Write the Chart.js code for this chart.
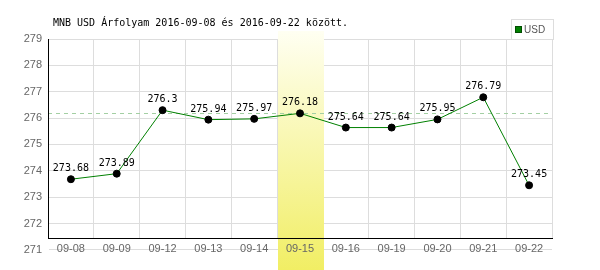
<!DOCTYPE html>
<html>
<head>
<meta charset="utf-8">
<script src="https://cdn.jsdelivr.net/npm/chart.js@4/dist/chart.umd.min.js"></script>
<style>
  html, body { margin: 0; padding: 0; background: #fff; }
  #wrap { width: 600px; height: 270px; position: relative; }
</style>
</head>
<body>
<div id="wrap"><canvas id="chart-usd"></canvas></div>
<script>
(function () {
  'use strict';

  // MNB USD rates, 2016-09-08 .. 2016-09-22
  var days = ['09-08', '09-09', '09-12', '09-13', '09-14', '09-15', '09-16', '09-19', '09-20', '09-21', '09-22'];
  var usdRates = [273.68, 273.89, 276.3, 275.94, 275.97, 276.18, 275.64, 275.64, 275.95, 276.79, 273.45];
  var yTicks = [271, 272, 273, 274, 275, 276, 277, 278, 279];
  var highlightDay = '09-15';
  var titleText = 'MNB USD Árfolyam 2016-09-08 és 2016-09-22 között.';
  var seriesName = 'USD';

  var monoFont = '10px "DejaVu Sans Mono", "Liberation Mono", monospace';
  var tickFont = { family: '"Liberation Sans", Arial, sans-serif', size: 11 };

  var decorations = {
    id: 'decorations',
    beforeDatasetsDraw: function (chart) {
      var ctx = chart.ctx, area = chart.chartArea;
      var x = chart.scales.x, y = chart.scales.y;
      var idx = days.indexOf(highlightDay);
      var step = x.getPixelForValue(1) - x.getPixelForValue(0);
      var cx = x.getPixelForValue(idx);
      var top = area.top - 8, bottom = chart.height;
      var g = ctx.createLinearGradient(0, top, 0, bottom);
      g.addColorStop(0, '#fffff2');
      g.addColorStop(1, '#f1ee64');
      ctx.save();
      ctx.fillStyle = g;
      ctx.fillRect(Math.round(cx - step / 2) + 1, top, Math.round(step), bottom - top);

      // reference line at the highlighted day's rate
      var ry = Math.round(y.getPixelForValue(usdRates[idx])) + 0.5;
      ctx.strokeStyle = '#a3cfa3';
      ctx.lineWidth = 1;
      ctx.setLineDash([4, 4]);
      ctx.beginPath();
      ctx.moveTo(area.left, ry);
      ctx.lineTo(area.right, ry);
      ctx.stroke();
      ctx.restore();
    },
    afterDatasetsDraw: function (chart) {
      var ctx = chart.ctx;
      var meta = chart.getDatasetMeta(0);
      ctx.save();
      ctx.font = monoFont;
      ctx.fillStyle = '#000';
      ctx.textAlign = 'center';
      ctx.textBaseline = 'alphabetic';
      meta.data.forEach(function (pt, i) {
        ctx.fillText(String(usdRates[i]), pt.x, pt.y - 8);
      });
      ctx.restore();
    },
    afterDraw: function (chart) {
      var ctx = chart.ctx, area = chart.chartArea;
      ctx.save();
      // title
      ctx.font = monoFont;
      ctx.fillStyle = '#000';
      ctx.textAlign = 'left';
      ctx.textBaseline = 'middle';
      ctx.fillText(titleText, area.left + 5, 23);

      // legend box
      var lw = 42, lh = 20;
      var lx = area.right + 1 - lw, ly = area.top - lh;
      ctx.strokeStyle = '#dddddd';
      ctx.lineWidth = 1;
      ctx.strokeRect(lx + 0.5, ly + 0.5, lw, lh);
      ctx.fillStyle = '#008000';
      ctx.fillRect(lx + 4, ly + 7, 6, 6);
      ctx.strokeStyle = '#004d00';
      ctx.strokeRect(lx + 4.5, ly + 7.5, 6, 6);
      ctx.fillStyle = '#555';
      ctx.font = '10px "Liberation Sans", Arial, sans-serif';
      ctx.fillText(seriesName, lx + 13, ly + 11);
      ctx.restore();
    }
  };

  new Chart(document.getElementById('chart-usd'), {
    type: 'line',
    data: {
      labels: days,
      datasets: [{
        label: seriesName,
        data: usdRates,
        borderColor: '#008000',
        borderWidth: 1,
        tension: 0,
        fill: false,
        pointRadius: 3.5,
        pointHoverRadius: 3.5,
        pointBackgroundColor: '#000',
        pointBorderColor: '#000',
        pointBorderWidth: 1,
        clip: false
      }]
    },
    options: {
      responsive: true,
      maintainAspectRatio: false,
      animation: false,
      layout: { padding: { top: 39, right: 48, bottom: 0, left: 0 } },
      plugins: {
        legend: { display: false },
        title: { display: false },
        tooltip: { enabled: false }
      },
      scales: {
        x: {
          type: 'category',
          offset: true,
          grid: { offset: true, color: '#dddddd', drawTicks: false },
          border: { color: '#000', z: 1 },
          ticks: { padding: 4, color: '#666', font: tickFont, autoSkip: false, maxRotation: 0, z: 1 },
          afterFit: function (s) { s.height = 32; }
        },
        y: {
          min: 271.45,
          max: 279,
          afterBuildTicks: function (s) {
            s.ticks = yTicks.map(function (v) { return { value: v }; });
          },
          grid: { color: '#dddddd', drawTicks: false },
          border: { color: '#000', z: 1 },
          ticks: { padding: 6, color: '#666', font: tickFont, z: 1 },
          afterFit: function (s) { s.width = 48; }
        }
      }
    },
    plugins: [decorations]
  });
})();
</script>
</body>
</html>
